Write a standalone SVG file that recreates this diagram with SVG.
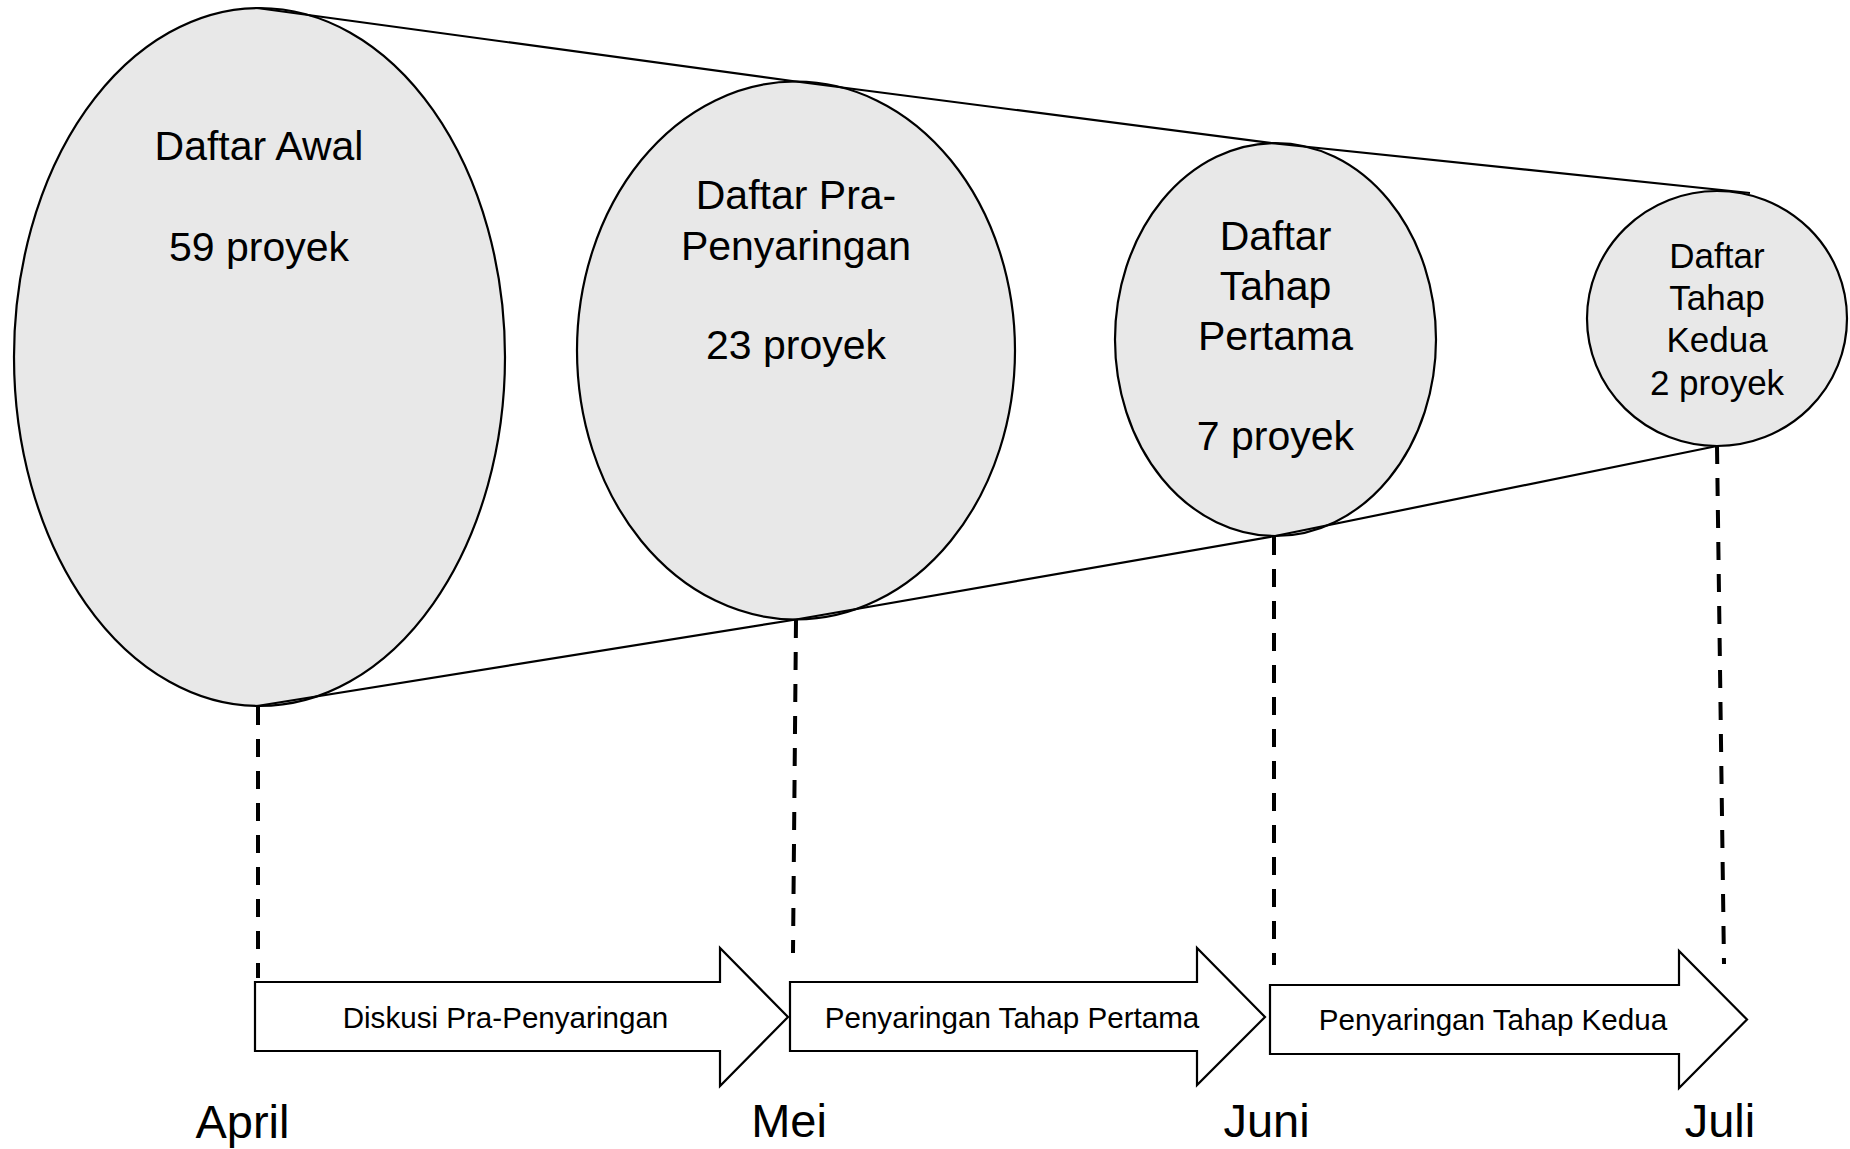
<svg xmlns="http://www.w3.org/2000/svg" width="1850" height="1149" viewBox="0 0 1850 1149">
  <style>
    .stage { fill: #e8e8e8; stroke: #000; stroke-width: 2.2; }
    .edge { fill: none; stroke: #000; stroke-width: 2.2; }
    .drop { fill: none; stroke: #000; stroke-width: 4; stroke-dasharray: 18 14; }
    .step { fill: #fff; stroke: #000; stroke-width: 2.2; stroke-linejoin: miter; }
    text { font-family: "Liberation Sans", Arial, sans-serif; fill: #000; text-anchor: middle; }
    .big { font-size: 41px; }
    .small { font-size: 35px; }
    .lbl { font-size: 29.6px; }
    .month { font-size: 47px; }
  </style>
  <rect width="1850" height="1149" fill="#fff"/>

  <!-- funnel stages -->
  <g id="stage-awal">
    <ellipse class="stage" cx="259.5" cy="357" rx="245.5" ry="349"/>
    <text class="big" x="259" y="160">Daftar Awal</text>
    <text class="big" x="259" y="261">59 proyek</text>
  </g>
  <g id="stage-pra">
    <ellipse class="stage" cx="796" cy="350.5" rx="219" ry="269"/>
    <text class="big" x="796" y="209">Daftar Pra-</text>
    <text class="big" x="796" y="260">Penyaringan</text>
    <text class="big" x="796" y="359">23 proyek</text>
  </g>
  <g id="stage-pertama">
    <ellipse class="stage" cx="1275.5" cy="339.5" rx="160.5" ry="196.5"/>
    <text class="big" x="1275.5" y="250">Daftar</text>
    <text class="big" x="1275.5" y="300">Tahap</text>
    <text class="big" x="1275.5" y="350">Pertama</text>
    <text class="big" x="1275.5" y="450">7 proyek</text>
  </g>
  <g id="stage-kedua">
    <ellipse class="stage" cx="1717" cy="318.5" rx="130" ry="127.5"/>
    <text class="small" x="1717" y="268">Daftar</text>
    <text class="small" x="1717" y="310">Tahap</text>
    <text class="small" x="1717" y="352">Kedua</text>
    <text class="small" x="1717" y="395">2 proyek</text>
  </g>

  <!-- funnel outline and drop lines to the timeline -->
  <g id="connectors">
    <polyline class="edge" points="257,8 796,81.5 1275,143.5 1750,193"/>
    <polyline class="edge" points="257,706 796,619.5 1275,536 1717,446"/>
    <line class="drop" x1="258" y1="707" x2="258" y2="978"/>
    <line class="drop" x1="796" y1="620" x2="793" y2="953"/>
    <line class="drop" x1="1274" y1="537" x2="1274" y2="965"/>
    <line class="drop" x1="1717" y1="446" x2="1724" y2="964"/>
  </g>

  <!-- timeline steps -->
  <g id="step-diskusi">
    <polygon class="step" points="255,982 720,982 720,948 788,1017 720,1086 720,1051 255,1051"/>
    <text class="lbl" x="505.5" y="1028">Diskusi Pra-Penyaringan</text>
  </g>
  <g id="step-pertama">
    <polygon class="step" points="790,982 1197,982 1197,948 1265,1017 1197,1085 1197,1051 790,1051"/>
    <text class="lbl" x="1012" y="1028">Penyaringan Tahap Pertama</text>
  </g>
  <g id="step-kedua">
    <polygon class="step" points="1270,985 1679,985 1679,951 1747,1019.5 1679,1088 1679,1054 1270,1054"/>
    <text class="lbl" x="1493" y="1030">Penyaringan Tahap Kedua</text>
  </g>

  <!-- months -->
  <g id="months">
    <text class="month" x="242.5" y="1138">April</text>
    <text class="month" x="789" y="1137">Mei</text>
    <text class="month" x="1266.5" y="1137">Juni</text>
    <text class="month" x="1720" y="1137">Juli</text>
  </g>
</svg>
